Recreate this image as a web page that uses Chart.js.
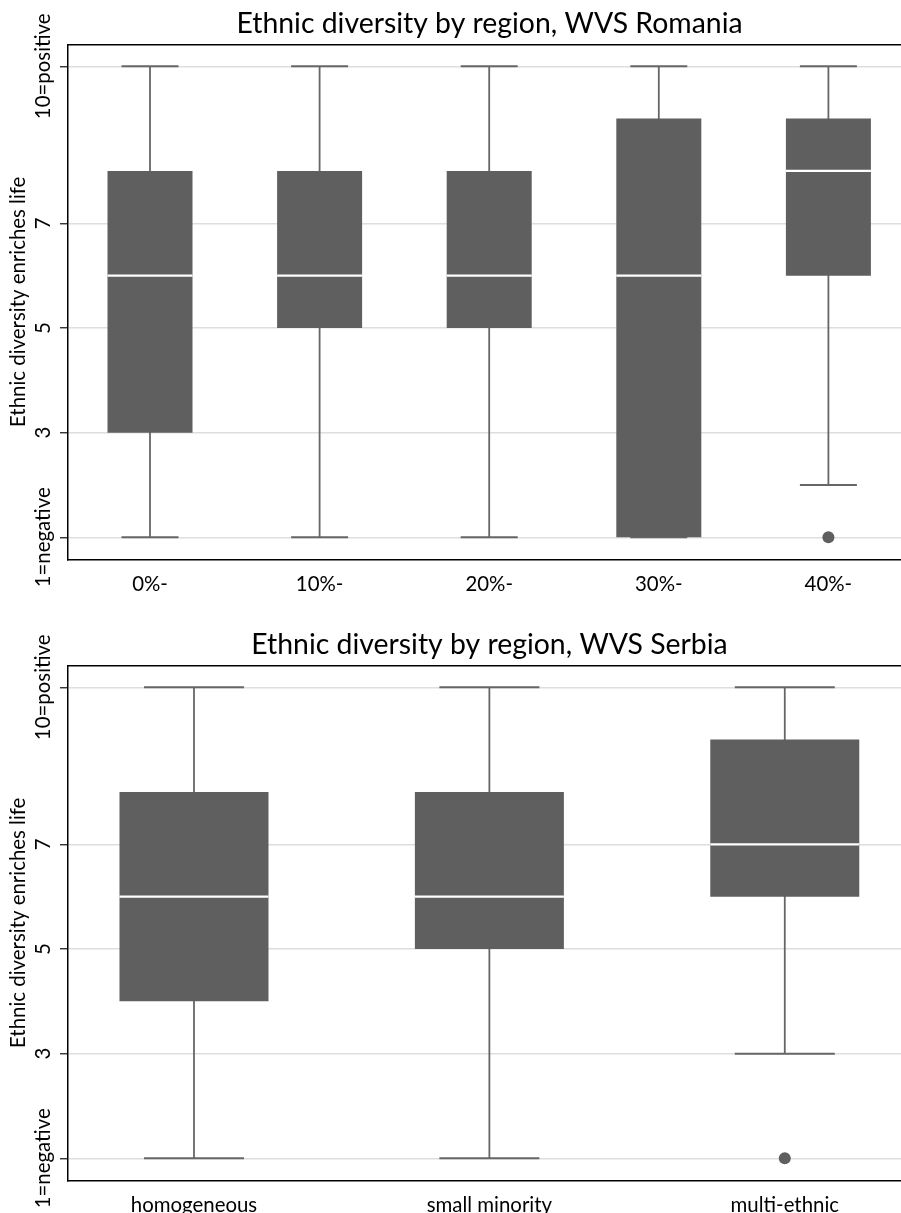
<!DOCTYPE html>
<html><head><meta charset="utf-8">
<script src="https://cdn.jsdelivr.net/npm/chart.js@4.4.1/dist/chart.umd.min.js"></script>
<style>
html,body{margin:0;padding:0;background:#fff;overflow:hidden;width:901px;height:1213px;}
#wrap{position:relative;width:901px;height:1213px;overflow:hidden;background:#fff;}
canvas{position:absolute;left:0;}
#c1{top:0;} #c2{top:621px;}
</style></head><body>
<div id="wrap"><canvas id="c1" width="911" height="592"></canvas><canvas id="c2" width="911" height="592"></canvas></div>
<script>
// ---- data ----
const romaniaCategories = ['0%-', '10%-', '20%-', '30%-', '40%-'];
const romaniaMin    = [1, 1, 1, 1, 2];
const romaniaQ1     = [3, 5, 5, 1, 6];
const romaniaMedian = [6, 6, 6, 6, 8];
const romaniaQ3     = [8, 8, 8, 9, 9];
const romaniaMax    = [10, 10, 10, 10, 10];
const romaniaOutliers = [[], [], [], [], [1]];

const serbiaCategories = ['homogeneous', 'small minority', 'multi-ethnic'];
const serbiaMin    = [1, 1, 3];
const serbiaQ1     = [4, 5, 6];
const serbiaMedian = [6, 6, 7];
const serbiaQ3     = [8, 8, 9];
const serbiaMax    = [10, 10, 10];
const serbiaOutliers = [[], [], [1]];

const yTickValues = [1, 3, 5, 7, 10];
const yTickLabels = ['1=negative', '3', '5', '7', '10=positive'];
const yAxisTitle = 'Ethnic diversity enriches life';

// ---- styles ----
const FONT = 'Lato';
const AX_SIZE = 20.4;
const TITLE_SIZE = 28.4;
const BOX = '#5f5f5f';
const WHISK = '#666666';
const GRID = '#dedede';

const mc = document.createElement('canvas').getContext('2d');
mc.font = AX_SIZE + 'px ' + FONT;
const widest = Math.max(...yTickLabels.map(t => mc.measureText(t).width));
const yTickPad = (68 - 8 - 43.5) - widest / 2;

function noPad(s) { s.paddingLeft = 0; s.paddingRight = 0; s.paddingTop = 0; s.paddingBottom = 0; }

function boxChart(id, titleText, cats, mn, q1, md, q3, mx, out, geom) {
  const idx = cats.map((c, i) => i);
  const outPts = [];
  out.forEach((arr, i) => arr.forEach(v => outPts.push({x: i, y: v})));
  const capPts = [];
  idx.forEach(i => { capPts.push({x: i, y: mn[i]}); capPts.push({x: i, y: mx[i]}); });
  return new Chart(document.getElementById(id), {
    type: 'bar',
    data: {
      datasets: [
        {type: 'scatter', data: idx.map(i => ({x: i, y: md[i]})), pointStyle: 'line',
         pointRadius: geom.boxW / 2, pointBorderColor: '#ffffff', pointBorderWidth: 2.2, order: 0},
        {type: 'bar', data: idx.map(i => ({x: i, y: [q1[i], q3[i]]})), backgroundColor: BOX,
         barThickness: geom.boxW, maxBarThickness: geom.boxW, grouped: false, borderWidth: 0, inflateAmount: 0, order: 1},
        {type: 'scatter', data: outPts, pointStyle: 'circle', pointRadius: 6,
         pointBackgroundColor: BOX, pointBorderWidth: 0, order: 2},
        {type: 'scatter', data: capPts, pointStyle: 'line', pointRadius: geom.capW / 2,
         pointBorderColor: WHISK, pointBorderWidth: 2, order: 3},
        {type: 'bar', data: idx.map(i => ({x: i, y: [mn[i], mx[i]]})), backgroundColor: WHISK,
         barThickness: 1.8, maxBarThickness: 1.8, grouped: false, borderWidth: 0, inflateAmount: 0, order: 4}
      ]
    },
    options: {
      responsive: false, animation: false, events: [],
      layout: {padding: 0, autoPadding: false},
      plugins: {
        legend: {display: false}, tooltip: {enabled: false},
        title: {display: true, text: titleText, fullSize: false, color: '#000',
                font: {family: FONT, size: TITLE_SIZE, weight: 'normal'}, padding: {top: 6.96, bottom: 3.26}}
      },
      scales: {
        x: {
          type: 'linear', min: geom.xMin, max: geom.xMax, offset: false, bounds: 'data',
          afterBuildTicks: s => { s.ticks = idx.map(i => ({value: i})); },
          afterFit: s => { s.height = 32.7; noPad(s); },
          ticks: {autoSkip: false, minRotation: 0, maxRotation: 0, padding: 12.6, color: '#000',
                  font: {family: FONT, size: AX_SIZE}, callback: (v, i) => cats[i]},
          grid: {display: false, drawTicks: false, offset: false},
          border: {display: true, color: '#000', width: 1.5}
        },
        x2: {
          type: 'linear', position: 'top', display: true,
          afterFit: s => { s.height = 0; noPad(s); },
          ticks: {display: false}, grid: {display: false, drawTicks: false},
          border: {display: true, color: '#000', width: 1.5}
        },
        y: {
          type: 'linear', min: 0.58, max: 10.42, beginAtZero: false,
          afterBuildTicks: s => { s.ticks = yTickValues.map(v => ({value: v})); },
          afterFit: s => { s.width = 68; noPad(s); },
          ticks: {autoSkip: false, minRotation: 90, maxRotation: 90, crossAlign: 'center', padding: yTickPad,
                  color: '#000', font: {family: FONT, size: AX_SIZE}, callback: (v, i) => yTickLabels[i]},
          grid: {color: GRID, lineWidth: 1.5, drawTicks: true, tickLength: 8, tickColor: '#222', tickWidth: 1.3},
          border: {display: true, color: '#000', width: 1.5},
          title: {display: true, text: yAxisTitle, color: '#000', font: {family: FONT, size: AX_SIZE},
                  padding: {top: 6.6, bottom: 0}}
        }
      }
    }
  });
}

boxChart('c1', 'Ethnic diversity by region, WVS Romania', romaniaCategories,
  romaniaMin, romaniaQ1, romaniaMedian, romaniaQ3, romaniaMax, romaniaOutliers,
  {xMin: -0.4835, xMax: 4.487, boxW: 85, capW: 57});
boxChart('c2', 'Ethnic diversity by region, WVS Serbia', serbiaCategories,
  serbiaMin, serbiaQ1, serbiaMedian, serbiaQ3, serbiaMax, serbiaOutliers,
  {xMin: -0.4265, xMax: 2.4273, boxW: 149, capW: 100});
</script>
</body></html>
